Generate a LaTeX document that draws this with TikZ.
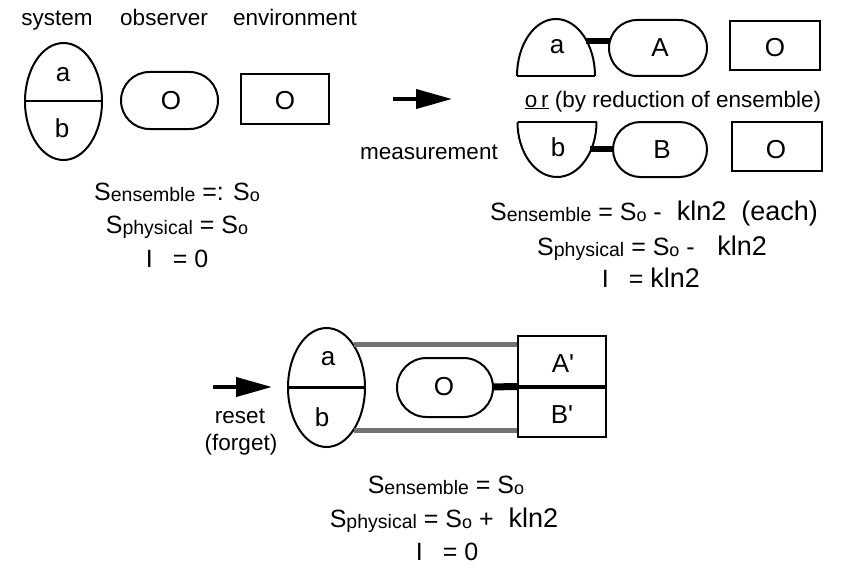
\documentclass[tikz,border=0pt]{standalone}
\usepackage{fontspec}
\setmainfont{Liberation Sans}[Ligatures=TeXOff]
\usetikzlibrary{shapes.geometric,shapes.misc,arrows.meta}
\newcommand\sub[2][19.5]{\raisebox{-1.2pt}{\fontsize{#1pt}{#1pt}\selectfont #2}}
\newcommand\bigtxt[1]{{\fontsize{27pt}{27pt}\selectfont #1}}
\begin{document}
\begin{tikzpicture}[x=1pt,y=-1pt,line width=2pt,
  lbl/.style={font=\fontsize{26pt}{26pt}\selectfont,inner sep=0},
  txt/.style={font=\fontsize{22.5pt}{22.5pt}\selectfont,inner sep=0,anchor=base},
  frm/.style={font=\fontsize{25pt}{25pt}\selectfont,inner sep=0,anchor=base},
  oval/.style={draw,ellipse,inner sep=0,minimum width=77pt,minimum height=117pt},
  stad/.style={draw,fill=white,rounded rectangle,inner sep=0,minimum width=97pt,minimum height=57pt},
  box/.style={draw,rectangle,inner sep=0},
  bar/.style={line width=6pt},
  grayline/.style={draw=black!55,line width=4.5pt},
  bigarrow/.style={line width=4pt,-{Triangle[length=36pt,width=19pt]}}
]
\useasboundingbox (0,0) rectangle (852,578);

% ---------- top left ----------
\node[txt] (tsys) at (57,26) {system};
\node[txt] (tobs) at (164,26) {observer};
\node[txt] (tenv) at (295,26) {environment};

\node[oval] (e1) at (63.5,101.5) {};
\draw (e1.west) -- (e1.east);
\node[lbl] (e1a) at (63,75) {a};
\node[lbl] (e1b) at (62,128) {b};

\node[stad] (o1) at (169.5,100.5) {};
\node[lbl] (o1t) at (171,101) {O};
\node[box,minimum width=88pt,minimum height=50pt] (r1) at (285,99) {};
\node[lbl] (r1t) at (285,101) {O};

\node[frm] (f1a) at (177,200) {S\sub{ensemble} =: S\sub[18]{o}};
\node[frm] (f1b) at (177,233) {S\sub{physical} = S\sub[18]{o}};
\node[frm] (f1c) at (177,267) {I\hspace{0.8em}= 0};

% ---------- measurement arrow ----------
\coordinate (m1) at (393,99);
\coordinate (m2) at (452,99);
\draw[bigarrow] (m1) -- (m2);
\node[txt] (meas) at (429,159) {measurement};

% ---------- top right ----------
\begin{scope}
  \clip (505,0) rectangle (610,76);
  \draw (556,76) ellipse [x radius=39pt,y radius=57pt];
\end{scope}
\coordinate (ha1) at (517,76);
\coordinate (ha2) at (595,76);
\draw (ha1) -- (ha2);
\node[lbl] (hat) at (557,47) {a};
\coordinate (abar) at (586,41);
\coordinate (abarend) at (612,41);
\draw[bar] (abar) -- (abarend);
\node[stad,minimum width=98pt,minimum height=56pt] (A) at (658,48) {};
\node[lbl] (At) at (660,48) {A};
\node[box,minimum width=90pt,minimum height=49pt] (r2) at (775,45.5) {};
\node[lbl] (r2t) at (775,48) {O};

\node[txt] (ortxt) at (673,107) {\underline{o\,r} (by reduction of ensemble)};

\begin{scope}
  \clip (505,122) rectangle (610,200);
  \draw (557,122) ellipse [x radius=39.5pt,y radius=55pt];
\end{scope}
\coordinate (hb1) at (517.5,122);
\coordinate (hb2) at (596.5,122);
\draw (hb1) -- (hb2);
\node[lbl] (hbt) at (558,147) {b};
\coordinate (bbar) at (590,149);
\coordinate (bbarend) at (615,149);
\draw[bar] (bbar) -- (bbarend);
\node[stad,minimum width=94pt,minimum height=55pt] (B) at (660,149.5) {};
\node[lbl] (Bt) at (662,150) {B};
\node[box,minimum width=90pt,minimum height=49pt] (r3) at (777,146.5) {};
\node[lbl] (r3t) at (776,150) {O};

\node[frm] (f2a) at (654,220) {S\sub{ensemble} = S\sub[18]{o} -\hspace{0.6em}\bigtxt{kln2}\hspace{0.6em}\bigtxt{(each)}};
\node[frm] (f2b) at (652,255) {S\sub{physical} = S\sub[18]{o} -\hspace{0.9em}\bigtxt{kln2}};
\node[frm] (f2c) at (651,287) {I\hspace{0.8em}= \bigtxt{kln2}};

% ---------- bottom ----------
\coordinate (r1a) at (213,387);
\coordinate (r1b) at (272,387);
\draw[bigarrow] (r1a) -- (r1b);
\node[txt] (reset) at (240,423) {reset};
\node[txt] (forget) at (241,450) {(forget)};

\node[oval,minimum height=119pt] (e2) at (326.5,387.5) {};
\draw[line width=3pt] (e2.west) -- (e2.east);
\node[lbl] (e2a) at (328,359) {a};
\node[lbl] (e2b) at (322,417) {b};

\node[box,minimum width=88pt,minimum height=101pt] (r4) at (562,386.5) {};
\draw[line width=4pt] (r4.west) -- (r4.east);
\node[lbl] (r4a) at (563,364) {A'};
\node[lbl] (r4b) at (562,415) {B'};

\draw[grayline] (e2.57) -- (e2.57 -| r4.west);
\draw[grayline] (e2.-57) -- (e2.-57 -| r4.west);

\coordinate (obar) at (490,387);
\draw[bar,line width=7pt] (obar) -- (r4.west);
\node[stad,minimum width=96pt,minimum height=59pt] (o2) at (445,387.5) {};
\node[lbl] (o2t) at (444,387) {O};

\node[frm] (f3a) at (446,493) {S\sub{ensemble} = S\sub[18]{o}};
\node[frm] (f3b) at (444,527) {S\sub{physical} = S\sub[18]{o} +\hspace{0.6em}\bigtxt{kln2}};
\node[frm] (f3c) at (447,560) {I\hspace{0.8em}= 0};
\end{tikzpicture}
\end{document}
